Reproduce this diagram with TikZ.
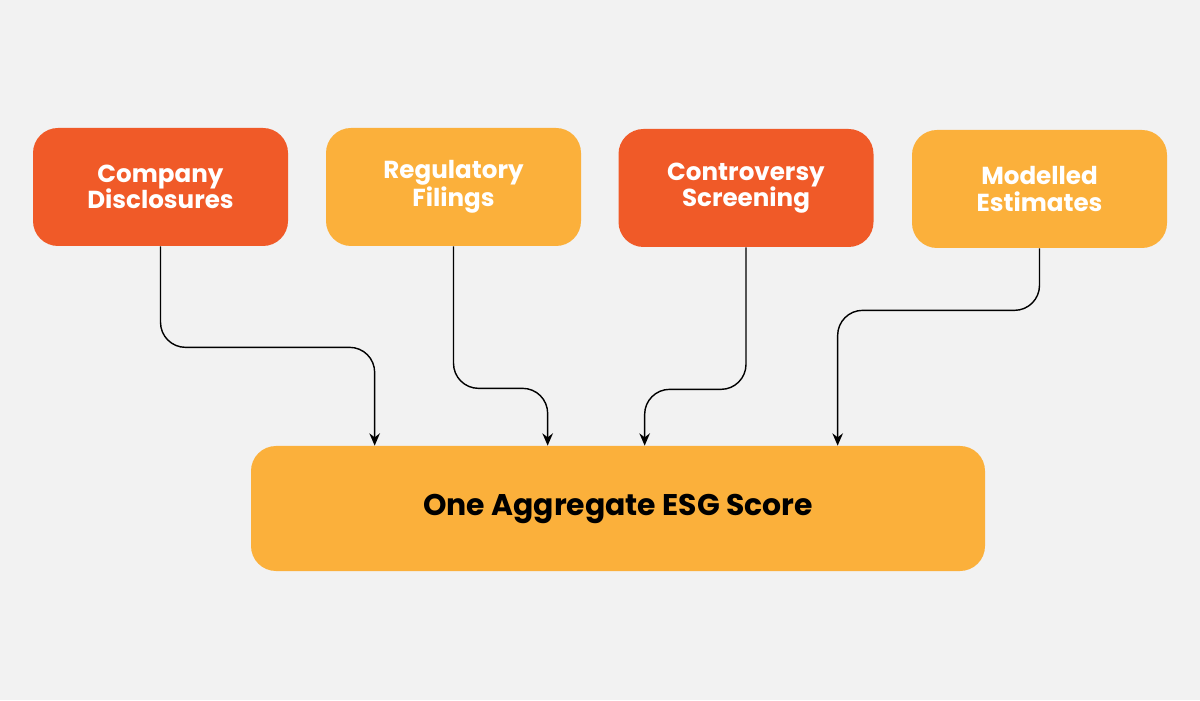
\documentclass[tikz,border=0pt]{standalone}
\usepackage{fontspec}
\setmainfont{Poppins}
\usetikzlibrary{arrows.meta,calc}
\definecolor{srcred}{HTML}{F05A28}
\definecolor{srcorange}{HTML}{FBB03B}
\definecolor{bgpage}{HTML}{F2F2F2}
\tikzset{
  source/.style={rounded corners=0.5cm, minimum width=5.1cm, minimum height=2.36cm,
    align=center, text=white, font=\bfseries\fontsize{14}{15}\selectfont},
  flow/.style={thick, rounded corners=0.5cm, -{Stealth[length=7pt,width=6pt]}}
}
\begin{document}
\begin{tikzpicture}
  % page
  \fill[bgpage] (0,0) rectangle (24,14);
  \useasboundingbox (0,0) rectangle (24,14);
  % sources
  \node[source, fill=srcred]    (company) at (3.21,10.26)  {Company\\Disclosures};
  \node[source, fill=srcorange] (filings) at (9.07,10.26)  {Regulatory\\Filings};
  \node[source, fill=srcred]    (screen)  at (14.92,10.24) {Controversy\\Screening};
  \node[source, fill=srcorange] (model)   at (20.79,10.22) {Modelled\\Estimates};
  % aggregate
  \node[rounded corners=0.5cm, fill=srcorange, minimum width=14.68cm, minimum height=2.5cm,
    font=\bfseries\fontsize{17}{18}\selectfont] (score) at (12.36,3.83) {One Aggregate ESG Score};
  \coordinate (in1) at ($(score.north west)+(2.48,0)$);
  \coordinate (in2) at ($(score.north west)+(5.94,0)$);
  \coordinate (in3) at ($(score.north west)+(7.88,0)$);
  \coordinate (in4) at ($(score.north west)+(11.74,0)$);
  % connectors
  \draw[flow] (company.south) -- ++(0,-2.02) -| (in1);
  \draw[flow] (filings.south) -- ++(0,-2.84) -| (in2);
  \draw[flow] (screen.south)  -- ++(0,-2.84) -| (in3);
  \draw[flow] (model.south)   -- ++(0,-1.24) -| (in4);
\end{tikzpicture}
\end{document}
